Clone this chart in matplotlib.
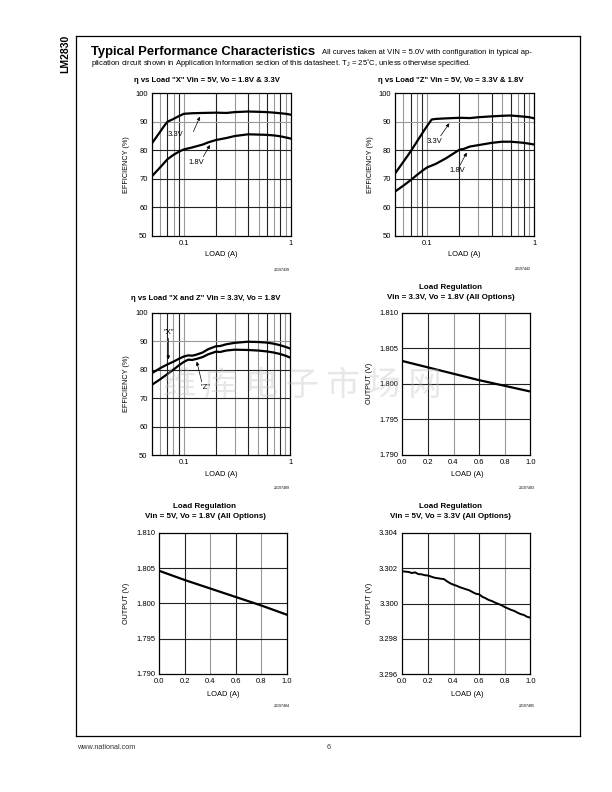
import matplotlib
matplotlib.use("Agg")
import matplotlib.pyplot as plt
from matplotlib.ticker import FixedLocator, NullLocator, NullFormatter

plt.rcParams['font.family'] = ['Liberation Sans', 'DejaVu Sans']

W, H = 612, 792

# --- data ---
# efficiency vs load, "X" option, Vin = 5V
x_load_x5 = [0.05, 0.055, 0.06, 0.065, 0.07, 0.08, 0.09, 0.1, 0.12, 0.15, 0.2, 0.25, 0.3, 0.4, 0.5, 0.6, 0.7, 0.8, 0.9, 1.0]
eff_x5_33 = [82.3, 84.5, 86.5, 88.4, 90.0, 91.0, 92.0, 92.8, 93.0, 93.1, 93.2, 93.1, 93.4, 93.6, 93.5, 93.4, 93.2, 93.0, 92.8, 92.5]
x_load_x5b = [0.05, 0.06, 0.07, 0.08, 0.09, 0.1, 0.12, 0.15, 0.17, 0.2, 0.25, 0.3, 0.4, 0.5, 0.6, 0.7, 0.8, 0.9, 1.0]
eff_x5_18 = [70.8, 74.0, 76.8, 78.4, 79.5, 80.3, 81.0, 82.0, 82.8, 83.6, 84.3, 85.0, 85.6, 85.5, 85.4, 85.2, 84.9, 84.5, 84.1]

# efficiency vs load, "Z" option, Vin = 5V
x_load_z5 = [0.05, 0.06, 0.07, 0.08, 0.09, 0.1, 0.11, 0.12, 0.15, 0.2, 0.25, 0.3, 0.4, 0.5, 0.6, 0.7, 0.8, 0.9, 1.0]
eff_z5_33 = [71.8, 76.0, 79.6, 83.0, 86.0, 88.6, 90.8, 91.0, 91.2, 91.4, 91.3, 91.6, 91.9, 92.1, 92.2, 92.0, 91.8, 91.6, 91.2]
x_load_z5b = [0.05, 0.06, 0.07, 0.08, 0.09, 0.1, 0.12, 0.15, 0.2, 0.22, 0.25, 0.3, 0.4, 0.5, 0.6, 0.7, 0.8, 0.9, 1.0]
eff_z5_18 = [65.5, 67.6, 69.5, 71.3, 72.8, 74.0, 75.2, 77.2, 80.2, 80.5, 81.3, 81.8, 82.6, 83.0, 83.0, 82.8, 82.6, 82.3, 82.0]

# efficiency vs load, Vin = 3.3V, Vo = 1.8V
x_load_33 = [0.05, 0.06, 0.07, 0.08, 0.09, 0.1, 0.11, 0.12, 0.13, 0.15, 0.17, 0.2, 0.22, 0.25, 0.3, 0.4, 0.5, 0.6, 0.7, 0.8, 0.9, 1.0]
eff_33_x = [78.7, 80.5, 81.8, 82.8, 83.8, 84.6, 85.0, 84.9, 85.2, 86.0, 87.2, 88.2, 88.3, 88.9, 89.4, 89.8, 89.7, 89.5, 89.1, 88.6, 88.0, 87.4]
eff_33_z = [74.6, 76.6, 78.4, 80.0, 81.5, 82.7, 83.5, 83.4, 83.7, 84.4, 85.4, 86.3, 86.2, 86.7, 87.0, 86.9, 86.7, 86.4, 86.0, 85.5, 84.9, 84.2]

# load regulation curves
x_reg = [0.0, 0.2, 0.4, 0.6, 0.8, 1.0]
vout_33in_18 = [1.8032, 1.8023, 1.8014, 1.8005, 1.7997, 1.7989]
vout_5in_18 = [1.8046, 1.8033, 1.8021, 1.8009, 1.7997, 1.7984]
x_reg_fine = [i * 0.025 for i in range(41)]
vout_5in_33 = [3.30182, 3.30180, 3.30178, 3.30172, 3.30176, 3.30166, 3.30165, 3.30160, 3.30158, 3.30152,
               3.30146, 3.30143, 3.30140, 3.30138, 3.30125, 3.30114, 3.30106, 3.30100, 3.30092, 3.30086,
               3.30080, 3.30074, 3.30064, 3.30055, 3.30052, 3.30038, 3.30030, 3.30020, 3.30014, 3.30005,
               3.29998, 3.29990, 3.29980, 3.29972, 3.29964, 3.29958, 3.29948, 3.29940, 3.29935, 3.29925,
               3.29920]

fig = plt.figure(figsize=(W / 100, H / 100), dpi=100, facecolor='white')


def px_axes(l, t, r, b):
    return fig.add_axes([l / W, 1 - b / H, (r - l) / W, (b - t) / H])


def ftext(x, y, s, **kw):
    kw.setdefault('ha', 'center')
    kw.setdefault('va', 'center')
    return fig.text(x / W, 1 - y / H, s, **kw)


DARK, LIGHT = '#222222', '#9a9a9a'


def style(ax):
    for sp in ax.spines.values():
        sp.set_linewidth(0.9)
        sp.set_color('black')
        sp.set_zorder(5)
    ax.tick_params(which='both', length=0, labelsize=5.5, pad=3)


def log_axes(l, t, r, b):
    ax = px_axes(l, t, r, b)
    ax.set_xscale('log')
    ax.set_xlim(0.05, 1)
    ax.set_ylim(50, 100)
    ax.xaxis.set_major_locator(FixedLocator([0.1, 1]))
    ax.set_xticklabels(['0.1', '1'])
    ax.xaxis.set_minor_locator(NullLocator())
    ax.xaxis.set_minor_formatter(NullFormatter())
    ax.set_yticks([50, 60, 70, 80, 90, 100])
    vx = [0.06, 0.07, 0.08, 0.09, 0.1, 0.2, 0.3, 0.4, 0.5, 0.6, 0.7, 0.8, 0.9]
    for i, v in enumerate(vx):
        ax.axvline(v, color=LIGHT if i % 2 == 0 else DARK, lw=0.8, zorder=1)
    for v, c in zip([60, 70, 80, 90], [DARK, DARK, DARK, LIGHT]):
        ax.axhline(v, color=c, lw=0.8, zorder=1)
    style(ax)
    return ax


def lin_axes(l, t, r, b, ylim, yticks, ylabels):
    ax = px_axes(l, t, r, b)
    ax.set_xlim(0, 1)
    ax.set_ylim(*ylim)
    ax.set_xticks([0, 0.2, 0.4, 0.6, 0.8, 1.0])
    ax.set_xticklabels(['0.0', '0.2', '0.4', '0.6', '0.8', '1.0'])
    ax.set_yticks(yticks)
    ax.set_yticklabels(ylabels)
    for v, c in zip([0.2, 0.4, 0.6, 0.8], [DARK, LIGHT, DARK, LIGHT]):
        ax.axvline(v, color=c, lw=0.8, zorder=1)
    for v in yticks[1:-1]:
        ax.axhline(v, color=DARK, lw=0.8, zorder=1)
    style(ax)
    return ax


def arrow(ax, txt, text_xy, tail, head):
    ax.text(*text_xy, txt, transform=ax.transAxes, fontsize=5.5, ha='center', va='center', zorder=6)
    ax.annotate('', xy=head, xytext=tail, xycoords='axes fraction', textcoords='axes fraction',
                arrowprops=dict(arrowstyle='-|>', lw=0.5, color='black', mutation_scale=5,
                                shrinkA=0, shrinkB=0), zorder=6)


CW = 1.6

# page decorations
ftext(65, 53.5, 'LM2830', rotation=90, fontsize=7.5, fontweight='bold')
ax_bg = fig.add_axes([76 / W, 1 - 736 / H, (580 - 76) / W, (736 - 35.7) / H], zorder=-5)
ax_bg.set_xticks([])
ax_bg.set_yticks([])
ax_bg.patch.set_alpha(0)
for sp in ax_bg.spines.values():
    sp.set_linewidth(0.9)

ftext(90.7, 52, 'Typical Performance Characteristics', ha='left', fontsize=9.4, fontweight='bold')
ftext(322, 53, 'All curves taken at VIN = 5.0V with configuration in typical ap-', ha='left', fontsize=5.5)
ftext(90.7, 63.3, 'plication circuit shown in Application Information section of this datasheet. '
      'T$_\\mathregular{J}$ = 25˚C, unless otherwise specified.', ha='left', fontsize=5.5)
ftext(76.7, 747.7, 'www.national.com', ha='left', fontsize=5.2, color='#333333')
ftext(328.3, 747.7, '6', fontsize=5.2, color='#333333')

# plot 1
ax1 = log_axes(151.7, 93.3, 290.7, 235.7)
ax1.plot(x_load_x5, eff_x5_33, color='black', lw=CW, zorder=4)
ax1.plot(x_load_x5b, eff_x5_18, color='black', lw=CW, zorder=4)
arrow(ax1, '3.3V', (0.175, 0.712), (0.30, 0.731), (0.347, 0.836))
arrow(ax1, '1.8V', (0.324, 0.515), (0.371, 0.555), (0.419, 0.637))
ftext(206.7, 80, 'η vs Load "X" Vin = 5V, Vo = 1.8V & 3.3V', fontsize=5.6, fontweight='bold')
ftext(126, 164.5, 'EFFICIENCY (%)', rotation=90, fontsize=5.2)
ftext(221.7, 255, 'LOAD (A)', fontsize=5.4)
ftext(281.7, 270, '20197439', fontsize=2.6)

# plot 2
ax2 = log_axes(395, 93.3, 534.3, 235.7)
ax2.plot(x_load_z5, eff_z5_33, color='black', lw=CW, zorder=4)
ax2.plot(x_load_z5b, eff_z5_18, color='black', lw=CW, zorder=4)
arrow(ax2, '3.3V', (0.287, 0.665), (0.328, 0.702), (0.390, 0.789))
arrow(ax2, '1.8V', (0.447, 0.461), (0.467, 0.496), (0.515, 0.583))
ftext(450.3, 80, 'η vs Load "Z" Vin = 5V, Vo = 3.3V & 1.8V', fontsize=5.6, fontweight='bold')
ftext(370, 164.5, 'EFFICIENCY (%)', rotation=90, fontsize=5.2)
ftext(464.7, 255, 'LOAD (A)', fontsize=5.4)
ftext(523.3, 269.3, '20197442', fontsize=2.6)

# plot 3
ax3 = log_axes(151.7, 312.7, 290.3, 455)
ax3.plot(x_load_33, eff_33_x, color='black', lw=CW, zorder=4)
ax3.plot(x_load_33, eff_33_z, color='black', lw=CW, zorder=4)
arrow(ax3, '"X"', (0.127, 0.859), (0.120, 0.820), (0.120, 0.672))
arrow(ax3, '"Z"', (0.392, 0.476), (0.361, 0.515), (0.325, 0.656))
ftext(205.7, 298.3, 'η vs Load "X and Z" Vin = 3.3V, Vo = 1.8V', fontsize=5.6, fontweight='bold')
ftext(126, 384, 'EFFICIENCY (%)', rotation=90, fontsize=5.2)
ftext(221, 474.5, 'LOAD (A)', fontsize=5.4)
ftext(281.7, 488.3, '20197489', fontsize=2.6)

# plot 4
ax4 = lin_axes(402.3, 312.7, 530.3, 454.7, (1.790, 1.810),
               [1.790, 1.795, 1.800, 1.805, 1.810], ['1.790', '1.795', '1.800', '1.805', '1.810'])
ax4.plot(x_reg, vout_33in_18, color='black', lw=CW, zorder=4)
ftext(450.7, 287.3, 'Load Regulation', fontsize=5.8, fontweight='bold')
ftext(450.7, 297.3, 'Vin = 3.3V, Vo = 1.8V (All Options)', fontsize=5.8, fontweight='bold')
ftext(369.3, 383.7, 'OUTPUT (V)', rotation=90, fontsize=5.2)
ftext(467.3, 475, 'LOAD (A)', fontsize=5.4)
ftext(526.7, 488.3, '20197483', fontsize=2.6)

# plot 5
ax5 = lin_axes(159.3, 532.7, 286.7, 674, (1.790, 1.810),
               [1.790, 1.795, 1.800, 1.805, 1.810], ['1.790', '1.795', '1.800', '1.805', '1.810'])
ax5.plot(x_reg, vout_5in_18, color='black', lw=CW, zorder=4)
ftext(205, 506.7, 'Load Regulation', fontsize=5.8, fontweight='bold')
ftext(205, 516.7, 'Vin = 5V, Vo = 1.8V (All Options)', fontsize=5.8, fontweight='bold')
ftext(126, 603.3, 'OUTPUT (V)', rotation=90, fontsize=5.2)
ftext(223.3, 694.3, 'LOAD (A)', fontsize=5.4)
ftext(281.7, 706, '20197484', fontsize=2.6)

# plot 6
ax6 = lin_axes(402.3, 532.7, 530.3, 674.3, (3.296, 3.304),
               [3.296, 3.298, 3.300, 3.302, 3.304], ['3.296', '3.298', '3.300', '3.302', '3.304'])
ax6.plot(x_reg_fine, vout_5in_33, color='black', lw=CW - 0.2, zorder=4)
ftext(450.8, 506.7, 'Load Regulation', fontsize=5.8, fontweight='bold')
ftext(450.8, 516.7, 'Vin = 5V, Vo = 3.3V (All Options)', fontsize=5.8, fontweight='bold')
ftext(369.3, 603.5, 'OUTPUT (V)', rotation=90, fontsize=5.2)
ftext(467.3, 694.3, 'LOAD (A)', fontsize=5.4)
ftext(527.3, 706, '20197485', fontsize=2.6)

# scanner watermark, faint and on top of the plots
ftext(302, 385, '维 库 电 子 市 场 网', fontsize=24, color='#bdbdbd', alpha=0.35,
      family=['Noto Sans CJK SC'], zorder=20)

fig.savefig('out.png', dpi=100)
